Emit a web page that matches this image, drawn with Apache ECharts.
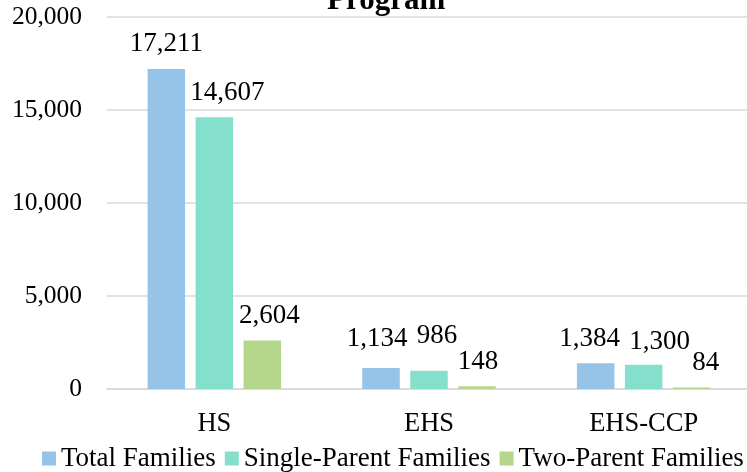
<!DOCTYPE html>
<html>
<head>
<meta charset="utf-8">
<script src="https://cdn.jsdelivr.net/npm/echarts@6/dist/echarts.min.js"></script>
<style>
  html, body { margin: 0; padding: 0; background: #fff; overflow: hidden; }
  #chart { width: 755px; height: 472px; }
</style>
</head>
<body>
<div id="chart"></div>
<script>
// program types
var categories = ['HS', 'EHS', 'EHS-CCP'];
// families per program
var totalFamilies = [17211, 1134, 1384];
var singleParent = [14607, 986, 1300];
var twoParent = [2604, 148, 84];
var yTicks = [0, 5000, 10000, 15000, 20000];

// label nudges so labels sit where the original placed them
var nudgeTotal = [[0, 0], [-4, -5], [-6, 0]];
var nudgeSingle = [[13, 0], [8, -10], [16, 2]];
var nudgeTwo = [[7, 0], [1, 0], [14, 0]];

var serif = '"Liberation Serif", "Times New Roman", serif';

function fmt(v) {
    return v.toLocaleString('en-US');
}

// chart div is a bit wider than the window: the plot runs off the right edge
var chart = echarts.init(document.getElementById('chart'));

function makeSeries(name, values, nudges, color) {
    return {
        name: name,
        type: 'bar',
        data: values.map(function (v, i) {
            return { value: v, label: { offset: nudges[i] } };
        }),
        barWidth: 37.5,
        barGap: '28%',
        itemStyle: { color: color },
        label: {
            show: true,
            position: 'top',
            distance: 11,
            fontFamily: serif,
            fontSize: 27,
            color: '#000',
            formatter: function (p) { return fmt(p.value); }
        },
        emphasis: { disabled: true }
    };
}

var option = {
    animation: false,
    textStyle: { fontFamily: serif },
    graphic: [{
        type: 'text',
        left: 327,
        top: -15,
        style: {
            text: 'Program',
            fontFamily: serif,
            fontWeight: 'bold',
            fontSize: 31,
            fill: '#000'
        }
    }],
    legend: {
        bottom: 0,
        left: 42,
        right: 0,
        padding: 0,
        itemWidth: 14,
        itemHeight: 14,
        itemGap: 9,
        icon: 'rect',
        textStyle: { fontFamily: serif, fontSize: 27, color: '#000' },
        data: ['Total Families', 'Single-Parent Families', 'Two-Parent Families']
    },
    grid: { left: 107, right: 4, top: 17, bottom: 83 },
    xAxis: {
        type: 'category',
        data: categories,
        axisTick: { show: false },
        axisLine: { lineStyle: { color: '#D9D9D9', width: 1.5 } },
        axisLabel: { fontFamily: serif, fontSize: 26.5, color: '#000', margin: 22 }
    },
    yAxis: {
        type: 'value',
        min: yTicks[0],
        max: yTicks[yTicks.length - 1],
        interval: 5000,
        axisLine: { show: false },
        axisTick: { show: false },
        splitLine: { lineStyle: { color: '#D9D9D9', width: 1.5 } },
        axisLabel: {
            fontFamily: serif, fontSize: 25.5, color: '#000', margin: 25,
            formatter: function (v) { return fmt(v); }
        }
    },
    series: [
        makeSeries('Total Families', totalFamilies, nudgeTotal, '#95C4E8'),
        makeSeries('Single-Parent Families', singleParent, nudgeSingle, '#84E0CC'),
        makeSeries('Two-Parent Families', twoParent, nudgeTwo, '#B4D78C')
    ]
};

chart.setOption(option);
</script>
</body>
</html>
